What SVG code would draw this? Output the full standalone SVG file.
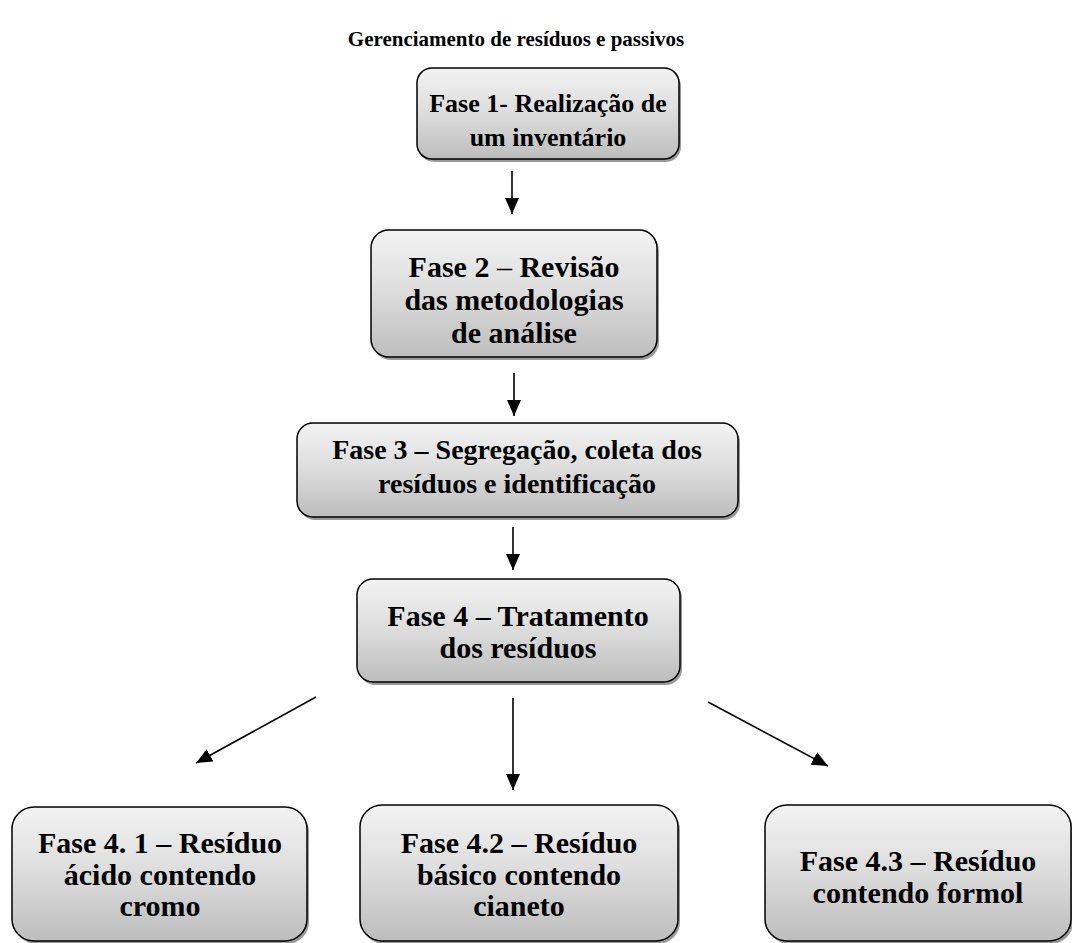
<svg xmlns="http://www.w3.org/2000/svg" width="1072" height="943" viewBox="0 0 1072 943">
<style>
.box{fill:url(#g);stroke:#000;stroke-width:1.5}
.sh{fill:#9a9a9a}
.t{font-family:"Liberation Serif","Times New Roman",serif;font-weight:bold;font-size:30px;fill:#000;text-anchor:middle}
.t26{font-size:26px}
.t28{font-size:28px}
.title{font-family:"Liberation Serif","Times New Roman",serif;font-weight:bold;font-size:21px;fill:#000;text-anchor:middle}
.c{stroke:#000;stroke-width:1.6;fill:none;marker-end:url(#a)}
</style>
<defs>
<linearGradient id="g" x1="0" y1="0" x2="0" y2="1">
<stop offset="0" stop-color="#f3f3f3"/>
<stop offset="0.5" stop-color="#dcdcdc"/>
<stop offset="1" stop-color="#bdbdbd"/>
</linearGradient>
<marker id="a" viewBox="0 0 16 14" markerWidth="16" markerHeight="14" refX="16" refY="7" orient="auto" markerUnits="userSpaceOnUse">
<path d="M0,0 L16,7 L0,14 z" fill="#000"/>
</marker>
</defs>
<rect width="1072" height="943" fill="#fff"/>
<text class="title" x="516" y="46">Gerenciamento de resíduos e passivos</text>

<g id="fase1">
<rect class="sh" x="419" y="71" width="262" height="91" rx="15"/>
<rect class="box" x="417" y="68" width="262" height="91" rx="15"/>
<text class="t t26" x="548" y="112">Fase 1- Realização de</text>
<text class="t t26" x="548" y="146">um inventário</text>
</g>

<g id="fase2">
<rect class="sh" x="373" y="233" width="286" height="127" rx="18"/>
<rect class="box" x="371" y="230" width="286" height="127" rx="18"/>
<text class="t" x="514" y="277">Fase 2 <tspan style="font-weight:normal">–</tspan> Revisão</text>
<text class="t" x="514" y="310">das metodologias</text>
<text class="t" x="514" y="343">de análise</text>
</g>

<g id="fase3">
<rect class="sh" x="299" y="426" width="441" height="94" rx="16"/>
<rect class="box" x="297" y="423" width="441" height="94" rx="16"/>
<text class="t t28" x="517" y="459">Fase 3 – Segregação, coleta dos</text>
<text class="t t28" x="517" y="493">resíduos e identificação</text>
</g>

<g id="fase4">
<rect class="sh" x="359" y="582" width="323" height="103" rx="16"/>
<rect class="box" x="357" y="579" width="323" height="103" rx="16"/>
<text class="t" x="518" y="626">Fase 4 – Tratamento</text>
<text class="t" x="518" y="658">dos resíduos</text>
</g>

<g id="fase41">
<rect class="sh" x="14" y="810" width="295" height="134" rx="22"/>
<rect class="box" x="12" y="807" width="295" height="134" rx="22"/>
<text class="t" x="160" y="853">Fase 4. 1 – Resíduo</text>
<text class="t" x="160" y="885">ácido contendo</text>
<text class="t" x="160" y="916">cromo</text>
</g>

<g id="fase42">
<rect class="sh" x="362" y="808" width="318" height="136" rx="22"/>
<rect class="box" x="360" y="805" width="318" height="136" rx="22"/>
<text class="t" x="519" y="853">Fase 4.2 – Resíduo</text>
<text class="t" x="519" y="885">básico contendo</text>
<text class="t" x="519" y="916">cianeto</text>
</g>

<g id="fase43">
<rect class="sh" x="767" y="808" width="306" height="136" rx="22"/>
<rect class="box" x="765" y="805" width="306" height="136" rx="22"/>
<text class="t" x="918" y="871">Fase 4.3 – Resíduo</text>
<text class="t" x="918" y="903">contendo formol</text>
</g>

<g id="connectors">
<line class="c" x1="512" y1="171" x2="512" y2="214"/>
<line class="c" x1="514" y1="373" x2="514" y2="416"/>
<line class="c" x1="513" y1="527" x2="513" y2="570"/>
<line class="c" x1="513" y1="698" x2="513" y2="790"/>
<line class="c" x1="316" y1="697" x2="196" y2="763"/>
<line class="c" x1="708" y1="702" x2="828" y2="766"/>
</g>
</svg>
